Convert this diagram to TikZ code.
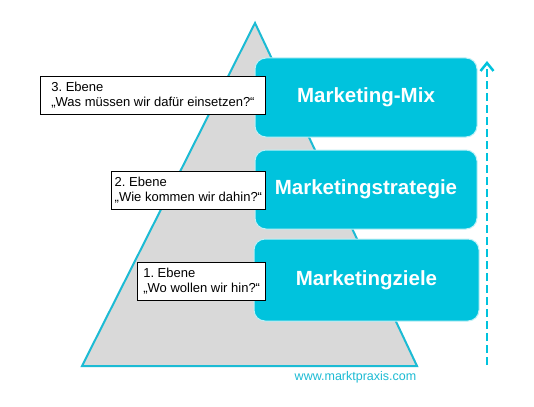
\documentclass[tikz,border=0pt]{standalone}
\usepackage{fontspec}
\setmainfont{Liberation Sans}
\usepackage{tikz}
\usetikzlibrary{positioning, arrows.meta}
\definecolor{mpcyan}{HTML}{00C3DD}
\definecolor{mpline}{HTML}{1CBBD4}
\definecolor{mpgrau}{HTML}{D9D9D9}
\frenchspacing

\begin{document}
\begin{tikzpicture}[x=1pt, y=-1pt,
    stufe/.style={fill=mpcyan, draw=white!75!mpcyan, line width=1pt, rounded corners=11pt,
        text=white, font=\fontsize{20.5}{24}\selectfont\bfseries, minimum width=222, minimum height=79},
    ebene/.style={draw=black, fill=white, line width=.8pt, align=left, anchor=north east,
        inner xsep=4pt, minimum height=38, font=\fontsize{13}{15}\selectfont}]
            \fill [white] (0,0) rectangle (534,406);
            \useasboundingbox (0,0) rectangle (534,406);
            % pyramid
            \draw [fill=mpgrau, draw=mpline, line width=2pt] (255,23) -- (417,366) -- (82,366) -- cycle;
            % levels
            \node [stufe] (mix) at (366,97.5) {Marketing-Mix};
            \node [stufe] (strategie) at (366,189.5) {Marketingstrategie};
            \node [stufe, minimum width=225, minimum height=82] (ziele) at (366.5,280) {Marketingziele};
            % questions
            \node [ebene, inner xsep=11pt] (ebene3) at (266,76) {3. Ebene\\„Was müssen wir dafür einsetzen?“};
            \node [ebene, inner xsep=3.5pt] (ebene2) at (266,171) {2. Ebene\\„Wie kommen wir dahin?“};
            \node [ebene, inner xsep=5.5pt] (ebene1) at (266,262) {1. Ebene\\„Wo wollen wir hin?“};
            % arrow
            \coordinate (unten) at (487,365);
            \coordinate (oben) at (487,61);
            \draw [mpcyan, line width=2.5pt, dash pattern=on 8pt off 4pt,
                -{Straight Barb[length=8pt, width=13pt, line width=2.5pt]}] (unten) -- (oben);
            \node [text=mpline, font=\fontsize{12.5}{15}\selectfont] (url) at (355.5,377) {www.marktpraxis.com};
        \end{tikzpicture}
\end{document}
